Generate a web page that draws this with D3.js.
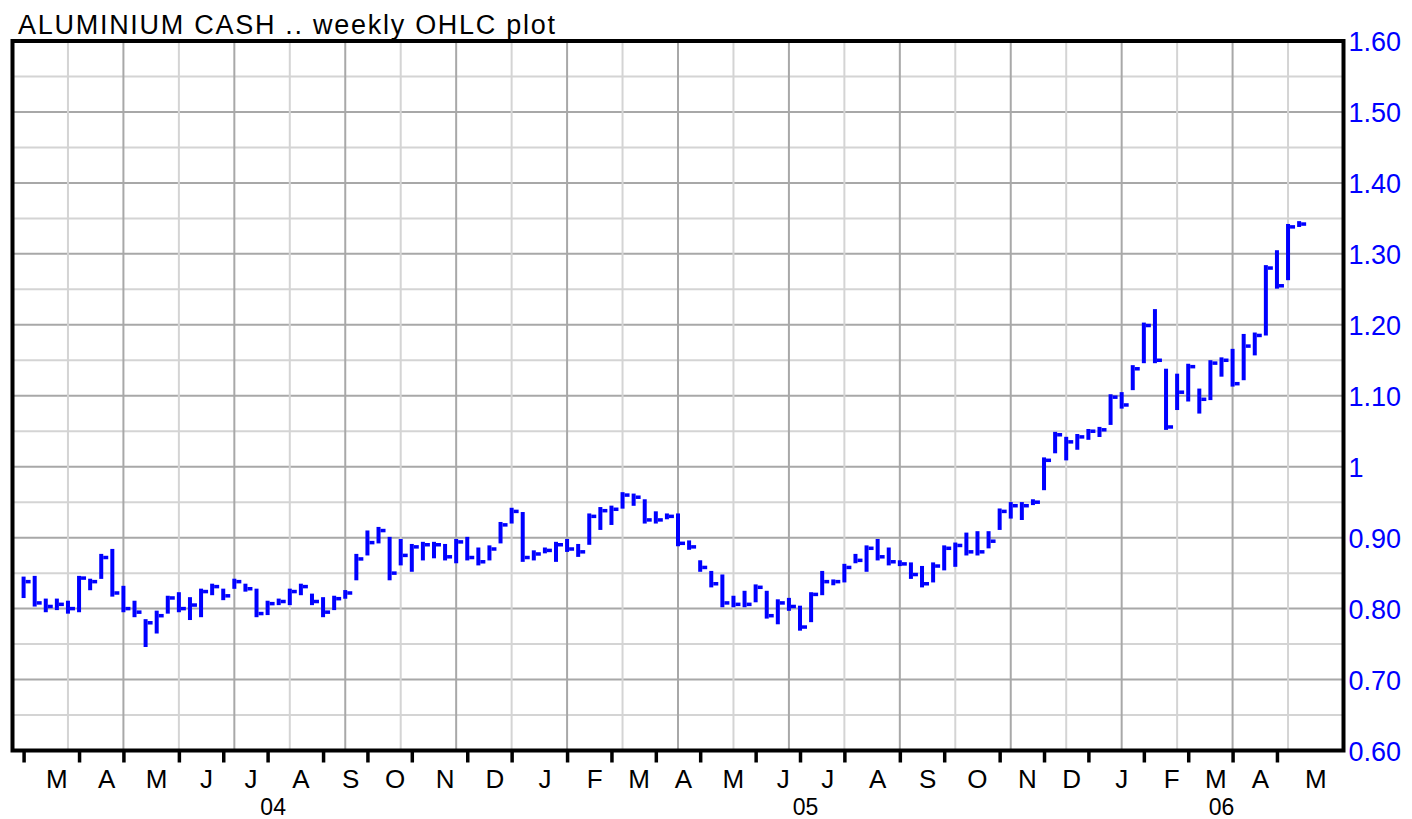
<!DOCTYPE html>
<html><head><meta charset="utf-8">
<script src="https://cdn.jsdelivr.net/npm/d3@7"></script>
<style>body{margin:0;background:#fff;} svg{display:block}</style>
</head><body>
<svg id="chart" width="1412" height="819"></svg>
<script>
// ---- data (weekly bars, week starting Mondays from 2004-03-01) ----
const title = "ALUMINIUM CASH .. weekly OHLC plot";
const firstWeek = "2004-03-01";
const highs = [
.843,.844,.812,.812,.809,.844,.840,.875,.882,.830,
.809,.783,.795,.816,.821,.814,.826,.833,.826,.840,
.833,.826,.809,.812,.826,.833,.819,.814,.816,.824,
.875,.908,.913,.899,.896,.889,.892,.892,.889,.896,
.899,.884,.887,.920,.940,.934,.880,.884,.892,.896,
.889,.932,.941,.943,.962,.960,.952,.935,.932,.932,
.894,.866,.851,.846,.816,.823,.832,.823,.811,.813,
.802,.821,.851,.839,.861,.875,.887,.896,.884,.866,
.863,.858,.863,.887,.891,.905,.907,.907,.939,.948,
.948,.952,1.011,1.047,1.040,1.044,1.051,1.054,1.100,1.103,
1.141,1.201,1.220,1.136,1.129,1.143,1.108,1.148,1.152,1.164,
1.185,1.187,1.282,1.303,1.340,1.344];
const lows = [
.817,.805,.797,.800,.795,.797,.828,.844,.819,.797,
.790,.748,.767,.795,.797,.786,.790,.821,.814,.830,
.826,.790,.793,.807,.807,.821,.807,.790,.800,.816,
.842,.877,.894,.842,.863,.854,.870,.873,.870,.866,
.870,.863,.870,.894,.922,.868,.870,.880,.868,.882,
.875,.892,.913,.920,.943,.947,.922,.922,.928,.890,
.885,.854,.832,.804,.804,.804,.811,.788,.780,.799,
.771,.783,.821,.835,.839,.866,.854,.870,.863,.862,
.844,.832,.839,.856,.861,.877,.877,.887,.913,.929,
.927,.948,.969,1.021,1.011,1.026,1.040,1.044,1.061,1.084,
1.110,1.148,1.148,1.054,1.082,1.094,1.077,1.096,1.129,1.115,
1.124,1.159,1.187,1.253,1.265,1.340];
const closes = [
.838,.808,.803,.806,.800,.843,.838,.872,.822,.800,
.795,.780,.790,.815,.800,.805,.824,.831,.818,.838,
.828,.793,.807,.810,.824,.831,.810,.795,.814,.822,
.870,.893,.910,.850,.875,.887,.890,.890,.873,.894,
.872,.866,.884,.918,.937,.872,.877,.882,.890,.884,
.880,.930,.938,.940,.960,.957,.925,.925,.930,.892,
.887,.858,.835,.808,.806,.806,.830,.790,.808,.803,
.774,.820,.838,.838,.858,.868,.885,.873,.866,.863,
.848,.835,.860,.885,.889,.880,.880,.895,.937,.945,
.945,.950,1.009,1.045,1.035,1.042,1.050,1.052,1.098,1.087,
1.138,1.199,1.150,1.056,1.105,1.141,1.095,1.146,1.150,1.117,
1.170,1.185,1.280,1.255,1.338,1.342];
const yTickValues = [0.6,0.7,0.8,0.9,1.0,1.1,1.2,1.3,1.4,1.5,1.6];
const yTickLabels = ["0.60","0.70","0.80","0.90","1","1.10","1.20","1.30","1.40","1.50","1.60"];
const monthLetters = ["J","F","M","A","M","J","J","A","S","O","N","D"];
const yearLabels = {2004:"04",2005:"05",2006:"06"};
const axisStart = "2004-02-23", axisEnd = "2006-06-12";
const firstMonth = "2004-03-01", lastMonth = "2006-05-01";

// ---- layout ----
const L = 12.5, R = 1343.5, T = 41, B = 750.5;
const svg = d3.select("#chart");
const parse = d3.utcParse("%Y-%m-%d");
const x = d3.scaleUtc().domain([parse(axisStart), parse(axisEnd)]).range([L, R]);
const y = d3.scaleLinear().domain([0.6, 1.6]).range([B, T]);

const weeks = d3.utcMonday.range(parse(firstWeek), d3.utcMonday.offset(parse(firstWeek), highs.length));
const bars = weeks.map((d, i) => ({date: d, high: highs[i], low: lows[i], close: closes[i]}));

// grid
const grid = svg.append("g");
const hVals = d3.range(13, 32).map(k => k / 20); // 0.65..1.55
grid.selectAll("line.h").data(hVals).join("line")
  .attr("x1", L).attr("x2", R)
  .attr("y1", d => y(d)).attr("y2", d => y(d))
  .attr("stroke", d => Math.round(d * 20) % 2 === 0 ? "#a8a8a8" : "#d4d4d4")
  .attr("stroke-width", 2);
const vWeeks = d3.range(5, 120, 5).map(k => ({k, date: d3.utcMonday.offset(parse(axisStart), k)}));
grid.selectAll("line.v").data(vWeeks).join("line")
  .attr("x1", d => x(d.date)).attr("x2", d => x(d.date))
  .attr("y1", T).attr("y2", B)
  .attr("stroke", d => d.k % 10 === 0 ? "#a8a8a8" : "#d4d4d4")
  .attr("stroke-width", 2);

// bars (high-low with close tick)
const g = svg.append("g").attr("fill", "#0000ff");
g.selectAll("rect.hl").data(bars).join("rect")
  .attr("x", d => x(d.date) - 2).attr("width", 4)
  .attr("y", d => y(d.high) - 1.5)
  .attr("height", d => Math.max(3, y(d.low) - y(d.high) + 3));
g.selectAll("rect.c").data(bars).join("rect")
  .attr("x", d => x(d.date) + 2).attr("width", 5)
  .attr("y", d => y(d.close) - 1.75).attr("height", 3.5);

// frame
svg.append("rect").attr("x", L).attr("y", T).attr("width", R - L).attr("height", B - T)
  .attr("fill", "none").attr("stroke", "#000").attr("stroke-width", 4);

// right axis
const yAxis = svg.append("g").attr("transform", `translate(${R},0)`)
  .call(d3.axisRight(y).tickValues(yTickValues).tickSize(0).tickPadding(5)
    .tickFormat((d, i) => yTickLabels[i]));
yAxis.select(".domain").remove();
yAxis.selectAll("text").attr("fill", "#0000ff")
  .style("font-family", "'Liberation Sans', Arial, sans-serif").style("font-size", "27px")
  .attr("dy", "0.36em");

// bottom month ticks
const months = d3.utcMonth.range(parse(firstMonth), d3.utcMonth.offset(parse(lastMonth), 1));
const monthTicks = months.map(m => d3.utcMonday.ceil(m));
const xAxis = svg.append("g").attr("transform", `translate(0,${B})`)
  .call(d3.axisBottom(x).tickValues(monthTicks).tickSize(12).tickFormat(""));
xAxis.select(".domain").remove();
xAxis.selectAll("line").attr("stroke", "#000").attr("stroke-width", 3.5);

const halfWeek = (x(parse("2004-03-08")) - x(parse("2004-03-01"))) / 2;
const font = "'Liberation Sans', Arial, sans-serif";
const mlab = svg.append("g").attr("fill", "#000")
  .style("font-family", font).style("font-size", "26px").attr("text-anchor", "middle");
months.forEach((m, i) => {
  const a = x(monthTicks[i]);
  const b = i < months.length - 1 ? x(monthTicks[i + 1]) : R;
  mlab.append("text").attr("x", (a + b) / 2 + halfWeek).attr("y", 788)
    .text(monthLetters[m.getUTCMonth()]);
});
const ylab = svg.append("g").attr("fill", "#000")
  .style("font-family", font).style("font-size", "23px").attr("text-anchor", "middle");
[2004, 2005, 2006].forEach(yr => {
  const inYear = monthTicks.filter(d => d.getUTCFullYear() === yr);
  const a = x(inYear[0]);
  const nxt = monthTicks.find(d => d.getUTCFullYear() === yr + 1);
  const b = nxt ? x(nxt) : R;
  ylab.append("text").attr("x", (a + b) / 2 + halfWeek).attr("y", 815).text(yearLabels[yr]);
});

// title
svg.append("text").attr("x", 18).attr("y", 34)
  .style("font-family", font).style("font-size", "27px")
  .attr("textLength", 537).attr("lengthAdjust", "spacing")
  .text(title);
</script>
</body></html>
